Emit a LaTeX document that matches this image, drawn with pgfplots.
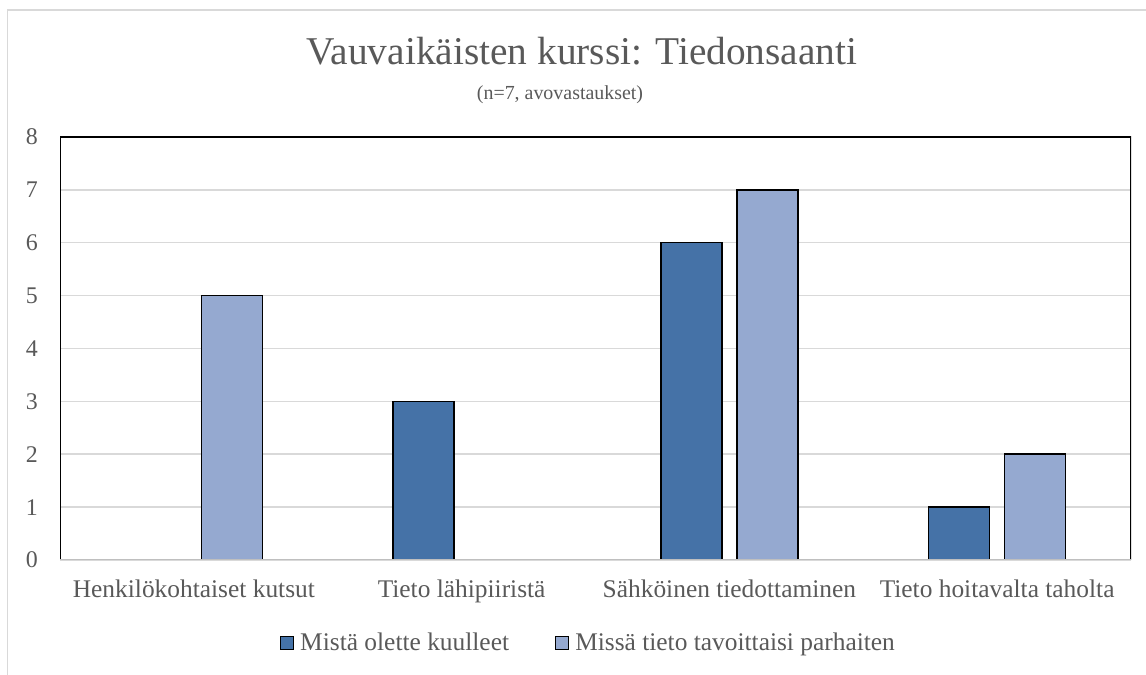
\documentclass[border=0pt]{standalone}
\usepackage{fontspec}
\setmainfont{Liberation Serif}
\usepackage{pgfplots}
\pgfplotsset{compat=1.18}
\definecolor{darkbar}{HTML}{4572A7}
\definecolor{lightbar}{HTML}{95A9D0}
\definecolor{txt}{HTML}{595959}
\definecolor{gridc}{HTML}{D9D9D9}
\definecolor{axisc}{HTML}{BFBFBF}
\begin{document}
\begin{tikzpicture}
\useasboundingbox (0,0) rectangle (1146bp,675bp);
\draw[gridc, line width=1.5bp] (7.5bp,0) -- (7.5bp,665bp) -- (1146bp,665bp);
\node[anchor=base, text=txt, font=\fontsize{39.5}{42}\selectfont, inner sep=0pt] at (582bp,610bp) {Vauvaikäisten kurssi: Tiedonsaanti};
\node[anchor=base, text=txt, font=\fontsize{20}{23}\selectfont, inner sep=0pt] at (560bp,575.5bp) {(n=7, avovastaukset)};
\begin{axis}[
  at={(60bp,115bp)}, anchor=south west,
  scale only axis, width=1071bp, height=423bp,
  ybar=15bp, bar width=61bp,
  xmin=-0.5, xmax=3.5, ymin=0, ymax=8,
  xtick={0,1,2,3},
  xticklabels={Henkilökohtaiset kutsut, Tieto lähipiiristä, Sähköinen tiedottaminen, Tieto hoitavalta taholta},
  ytick={0,1,2,3,4,5,6,7,8},
  major tick length=0pt,
  ymajorgrids, grid style={gridc, line width=1.5bp},
  axis line style={draw=none},
  tick label style={text=txt, inner sep=0pt},
  /pgf/number format/assume math mode=true,
  yticklabel style={anchor=east, xshift=-22bp, font=\fontsize{24}{26}\selectfont},
  xticklabel style={anchor=base, yshift=-38bp, font=\fontsize{25.5}{27}\selectfont},
  legend columns=2,
  legend cell align=left,
  legend image code/.code={\draw[#1,draw=black,line width=1.2bp] (0bp,-6.5bp) rectangle (13bp,6.5bp);},
  legend style={at={(0.4925,-0.196)}, anchor=center, draw=none, fill=none,
    font=\fontsize{25.5}{27}\selectfont, text=txt,
    nodes={inner sep=0pt},
    /tikz/every odd column/.append style={column sep=6bp},
    /tikz/every even column/.append style={column sep=46bp}},
]
\addplot[fill=darkbar, draw=black, line width=1.5bp] coordinates {(1,3) (2,6) (3,1)};
\addplot[fill=lightbar, draw=black, line width=1.5bp] coordinates {(0,5) (2,7) (3,2)};
\legend{Mistä olette kuulleet, Missä tieto tavoittaisi parhaiten}
\draw[black, line width=1.5bp] (rel axis cs:0,0) -- (rel axis cs:0,1) -- (rel axis cs:1,1) -- (rel axis cs:1,0);
\draw[axisc, line width=1.5bp] (rel axis cs:0,0) -- (rel axis cs:1,0);
\end{axis}
\end{tikzpicture}
\end{document}
